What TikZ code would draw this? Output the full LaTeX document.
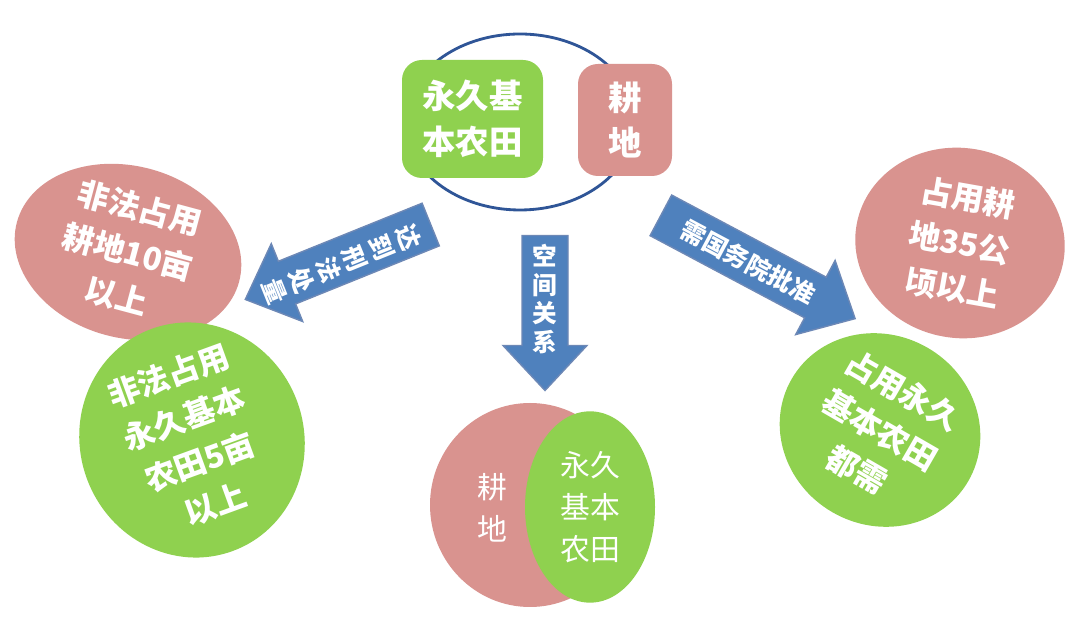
\documentclass[tikz,border=0pt]{standalone}
\usepackage{fontspec}
\newfontfamily\cjk{Noto Sans CJK SC}
\usetikzlibrary{shapes.geometric, positioning}
\definecolor{leaf}{HTML}{8FD14F}
\definecolor{rose}{HTML}{D9938F}
\definecolor{sky}{HTML}{4F81BD}
\definecolor{ink}{HTML}{2F5597}
\tikzset{
  blob/.style={ellipse, inner sep=0pt, text=white, align=center, font=\cjk\bfseries\fontsize{9}{13}\selectfont},
  card/.style={rounded corners=2mm, text=white, align=center, font=\cjk\bfseries\fontsize{9.5}{13}\selectfont},
  pointer/.style={fill=sky, draw=ink!70},
  tag/.style={text=white, align=center, inner sep=0pt, font=\cjk\bfseries\fontsize{7}{8.2}\selectfont}
}
% fat arrow along x, centred at the origin: #1 = length
\newcommand{\fatarrow}[1]{%
  \path[pointer] (-#1/2,0.23) -- (#1/2-0.45,0.23) -- (#1/2-0.45,0.42) -- (#1/2,0)
    -- (#1/2-0.45,-0.42) -- (#1/2-0.45,-0.23) -- (-#1/2,-0.23) -- cycle;}
\begin{document}
\begin{tikzpicture}
    \useasboundingbox[fill=white] (0,0) rectangle (10.8,6.44);
    % top: both kinds of land
    \draw[ink, thick] (5.20,5.22) ellipse[x radius=1.15, y radius=0.88];
    \node[card, fill=leaf, minimum width=1.41cm, minimum height=1.18cm] (perm) at (4.725,5.25) {永久基\\本农田};
    \node[card, fill=rose, minimum width=0.94cm, minimum height=1.12cm] (farm) at (6.25,5.24) {耕\\地};

    % side ellipses
    \node[blob, fill=rose, minimum width=2.3cm, minimum height=1.7cm, rotate=-15] (lp) at (1.28,3.92) {非法占用\\耕地10亩\\以上};
    \node[blob, fill=leaf, minimum width=2.24cm, minimum height=1.84cm, rotate=20] (lg) at (1.92,2.04) {非法占用\\永久基本\\农田5亩\\以上};
    \node[blob, fill=rose, minimum width=2.1cm, minimum height=1.9cm, rotate=-10] (rp) at (9.60,4.01) {占用耕\\地35公\\顷以上};
    \node[blob, fill=leaf, minimum width=2.04cm, minimum height=1.9cm, rotate=-30] (rg) at (8.80,2.14) {占用永久\\基本农田\\都需};

    % bottom: spatial relation
    \node[ellipse, fill=rose, minimum width=2.0cm, minimum height=2.04cm] (big) at (5.30,1.39) {};
    \node[ellipse, fill=leaf, minimum width=1.3cm, minimum height=1.64cm, align=center, text=white, font=\cjk\fontsize{8.5}{12}\selectfont] (small) at (5.90,1.37) {永久\\基本\\农田};
    \node[text=white, align=center, font=\cjk\fontsize{8.5}{12}\selectfont] (farmlbl) at (4.92,1.36) {耕\\地};

    % arrows
    \begin{scope}[shift={(3.38,3.82)}, rotate=202]
        \fatarrow{2.0}
    \end{scope}
    \node[tag, rotate=-68] (toleft) at (3.42,3.80) {达\\到\\刑\\法\\处\\量};
    \begin{scope}[shift={(5.45,3.31)}, rotate=270]
        \fatarrow{1.55}
    \end{scope}
    \node[tag] (todown) at (5.45,3.45) {空\\间\\关\\系};
    \begin{scope}[shift={(7.58,3.77)}, rotate=-28]
        \fatarrow{2.2}
    \end{scope}
    \node[tag, rotate=-28] (toright) at (7.48,3.82) {需国务院批准};
\end{tikzpicture}
\end{document}
